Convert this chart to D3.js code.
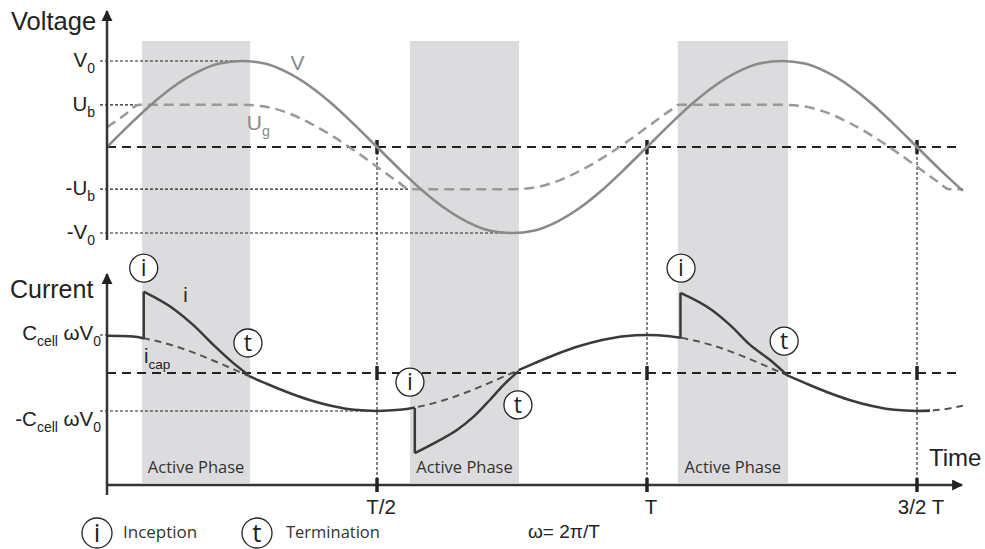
<!DOCTYPE html>
<html>
<head>
<meta charset="utf-8">
<script src="https://cdn.jsdelivr.net/npm/d3@7"></script>
<style>
  body { margin: 0; background: #fff; }
  text { font-family: "Liberation Sans", Arial, sans-serif; fill: #222; }
  .soft { font-family: "Open Sans", sans-serif; }
</style>
</head>
<body>
<svg id="chart"></svg>
<script>
// time is in periods T, voltage in V0, current in Ccell*w*V0

var voltage = [[0,0],[0.042,0.26],[0.083,0.5],[0.125,0.71],[0.167,0.87],[0.208,0.97],[0.25,1],
  [0.292,0.97],[0.333,0.87],[0.375,0.71],[0.417,0.5],[0.458,0.26],[0.5,0],[0.542,-0.26],
  [0.583,-0.5],[0.625,-0.71],[0.667,-0.87],[0.708,-0.97],[0.75,-1],[0.792,-0.97],[0.833,-0.87],
  [0.875,-0.71],[0.917,-0.5],[0.958,-0.26],[1,0],[1.042,0.26],[1.083,0.5],[1.125,0.71],
  [1.167,0.87],[1.208,0.97],[1.25,1],[1.292,0.97],[1.333,0.87],[1.375,0.71],[1.417,0.5],
  [1.458,0.26],[1.5,0],[1.542,-0.26],[1.585,-0.51]];

var gasVoltage = [[0,0.23],[0.03,0.36],[0.06,0.49],[0.25,0.49],[0.292,0.47],[0.333,0.4],
  [0.375,0.28],[0.417,0.13],[0.458,-0.04],[0.5,-0.23],[0.542,-0.42],[0.559,-0.49],[0.75,-0.49],
  [0.792,-0.47],[0.833,-0.4],[0.875,-0.28],[0.917,-0.13],[0.958,0.04],[1,0.23],[1.042,0.42],
  [1.059,0.49],[1.25,0.49],[1.292,0.47],[1.333,0.4],[1.375,0.28],[1.417,0.13],[1.458,-0.04],
  [1.5,-0.23],[1.542,-0.42],[1.559,-0.49],[1.585,-0.49]];

var capCurrent = [[0,0.98],[0.042,0.97],[0.083,0.87],[0.125,0.71],[0.167,0.5],[0.208,0.26],
  [0.25,0],[0.292,-0.26],[0.333,-0.5],[0.375,-0.71],[0.417,-0.87],[0.458,-0.97],[0.5,-1],
  [0.542,-0.97],[0.583,-0.87],[0.625,-0.71],[0.667,-0.5],[0.708,-0.26],[0.75,0],[0.792,0.26],
  [0.833,0.5],[0.875,0.71],[0.917,0.87],[0.958,0.97],[1,1],[1.042,0.97],[1.083,0.87],
  [1.125,0.71],[1.167,0.5],[1.208,0.26],[1.25,0],[1.292,-0.26],[1.333,-0.5],[1.375,-0.71],
  [1.417,-0.87],[1.458,-0.97],[1.5,-1],[1.542,-0.97],[1.585,-0.86]];

// discharge pulses: first point is the inception foot, second the jump
var pulse1 = [[0.068,0.89],[0.068,2.14],[0.126,1.66],[0.16,1.26],[0.197,0.74],[0.234,0.26],[0.262,-0.05]];
var pulse2 = [[0.57,-0.92],[0.57,-2.11],[0.617,-1.76],[0.648,-1.5],[0.679,-1.15],[0.709,-0.71],[0.734,-0.32],[0.762,0.05]];
var pulse3 = [[1.062,0.91],[1.062,2.11],[1.12,1.66],[1.154,1.26],[1.191,0.74],[1.228,0.34],[1.259,-0.05]];
var pulses = [pulse1, pulse2, pulse3];
var currentTailStart = 1.524;

var activePhases = [[0.065, 0.265], [0.561, 0.763], [1.057, 1.261]];

var timeTicks = [0.5, 1, 1.5];
var timeLabels = ["T/2", "T", "3/2 T"];

var voltageTicks = [1, 0.49, -0.49, -1];
var voltageLabels = [["V", "0"], ["U", "b"], ["-U", "b"], ["-V", "0"]];
var voltageGuideEnds = [0.25, 0.06, 0.56, 0.75];

var currentTicks = [1, -1];
var currentLabels = [["C", "cell", " \u03c9V", "0"], ["-C", "cell", " \u03c9V", "0"]];
var currentGuideEnds = [0, 0.5];

var annotations = [["i", 0.068, 2.76], ["t", 0.261, 0.79], ["i", 0.561, -0.24],
  ["t", 0.761, -0.84], ["i", 1.063, 2.76], ["t", 1.254, 0.84]];

var width = 985, height = 549;

var svg = d3.select("#chart")
    .attr("width", width)
    .attr("height", height);

var x = d3.scaleLinear().domain([0, 1.5]).range([107, 917]);
var yV = d3.scaleLinear().domain([-1, 1]).range([233, 61]);
var yI = d3.scaleLinear().domain([-1, 1]).range([411, 335]);
var axisY = 485, tEnd = 1.585;

// text with alternating normal / subscript parts
function richText(g, parts, size) {
  parts.forEach(function(p, k) {
    var sub = k % 2 === 1;
    g.append("tspan")
        .attr("font-size", sub ? size * 0.68 : size)
        .attr("dy", sub ? size * 0.3 : (k > 0 ? -size * 0.3 : 0))
        .text(p);
  });
  return g;
}

var defs = svg.append("defs");
defs.append("marker")
    .attr("id", "arrow")
    .attr("viewBox", "0 0 10 10")
    .attr("refX", 9).attr("refY", 5)
    .attr("markerWidth", 5).attr("markerHeight", 4.4)
    .attr("markerUnits", "strokeWidth")
    .attr("orient", "auto")
  .append("path")
    .attr("d", "M0,0 L10,5 L0,10 z")
    .attr("fill", "#222");

// active phases
svg.selectAll(".phase")
    .data(activePhases)
  .enter().append("rect")
    .attr("x", d => x(d[0]))
    .attr("width", d => x(d[1]) - x(d[0]))
    .attr("y", 41)
    .attr("height", axisY - 2 - 41)
    .attr("fill", "#dcdcdf");

svg.selectAll(".phase-label")
    .data(activePhases)
  .enter().append("text")
    .attr("class", "soft")
    .attr("x", d => x((d[0] + d[1]) / 2))
    .attr("y", 473)
    .attr("text-anchor", "middle")
    .attr("font-size", 16.5)
    .style("fill", "#333")
    .text("Active Phase");

// guide lines
var guide = { stroke: "#222", "stroke-width": 1.1, "stroke-dasharray": "3,2", fill: "none" };
function styled(sel, st) { Object.keys(st).forEach(k => sel.attr(k, st[k])); return sel; }

styled(svg.selectAll(".vguide").data(timeTicks).enter().append("line")
    .attr("x1", d => x(d)).attr("x2", d => x(d))
    .attr("y1", yV(0)).attr("y2", axisY), guide);

styled(svg.selectAll(".vlev").data(voltageTicks).enter().append("line")
    .attr("x1", 100).attr("x2", (d, i) => x(voltageGuideEnds[i]))
    .attr("y1", d => yV(d)).attr("y2", d => yV(d)), guide);

styled(svg.selectAll(".ilev").data(currentTicks).enter().append("line")
    .attr("x1", 100).attr("x2", (d, i) => x(currentGuideEnds[i]))
    .attr("y1", d => yI(d)).attr("y2", d => yI(d)), guide);

// zero lines
[yV(0), yI(0)].forEach(function(y0) {
  svg.append("line")
      .attr("x1", x(0)).attr("x2", 962)
      .attr("y1", y0).attr("y2", y0)
      .attr("stroke", "#222").attr("stroke-width", 2)
      .attr("stroke-dasharray", "9,6");
  svg.selectAll(null).data(timeTicks).enter().append("line")
      .attr("x1", d => x(d)).attr("x2", d => x(d))
      .attr("y1", y0 - 7).attr("y2", y0 + 7)
      .attr("stroke", "#222").attr("stroke-width", 3.5);
});

// voltage curves
var lineV = d3.line().x(d => x(d[0])).y(d => yV(d[1])).curve(d3.curveMonotoneX);
var lineI = d3.line().x(d => x(d[0])).y(d => yI(d[1])).curve(d3.curveMonotoneX);

svg.append("path")
    .datum(gasVoltage)
    .attr("d", lineV)
    .attr("fill", "none")
    .attr("stroke", "#999")
    .attr("stroke-width", 2.5)
    .attr("stroke-dasharray", "10,6");

svg.append("path")
    .datum(voltage)
    .attr("d", lineV)
    .attr("fill", "none")
    .attr("stroke", "#8a8a8a")
    .attr("stroke-width", 2.6);

// current: capacitive part, solid outside the pulses, dashed under them
var windows = pulses.map(p => [p[0][0], p[p.length - 1][0]]);
var solidSpans = [], edge = 0;
windows.forEach(function(w) { solidSpans.push([edge, w[0]]); edge = w[1]; });
solidSpans.push([edge, currentTailStart]);
var dashedSpans = windows.concat([[currentTailStart, tEnd + 0.02]]);

function clipFor(id, spans) {
  defs.append("clipPath").attr("id", id)
    .selectAll("rect").data(spans).enter().append("rect")
      .attr("x", d => x(d[0])).attr("width", d => x(d[1]) - x(d[0]))
      .attr("y", 250).attr("height", 240);
}
clipFor("solidClip", solidSpans);
clipFor("dashClip", dashedSpans);

svg.append("path")
    .datum(capCurrent)
    .attr("d", lineI)
    .attr("clip-path", "url(#dashClip)")
    .attr("fill", "none")
    .attr("stroke", "#555")
    .attr("stroke-width", 2)
    .attr("stroke-dasharray", "7,5");

svg.append("path")
    .datum(capCurrent)
    .attr("d", lineI)
    .attr("clip-path", "url(#solidClip)")
    .attr("fill", "none")
    .attr("stroke", "#3a3a3a")
    .attr("stroke-width", 2.5);

pulses.forEach(function(p) {
  svg.append("path")
      .datum(p.slice(0, 2))
      .attr("d", d3.line().x(d => x(d[0])).y(d => yI(d[1])))
      .attr("stroke", "#3a3a3a").attr("stroke-width", 2.5);
  svg.append("path")
      .datum(p.slice(1))
      .attr("d", lineI)
      .attr("fill", "none")
      .attr("stroke", "#3a3a3a")
      .attr("stroke-width", 2.5)
      .attr("stroke-linejoin", "round");
});

// axes
var axisStyle = { stroke: "#333", "stroke-width": 2.5 };
styled(svg.append("line").attr("x1", x(0)).attr("x2", x(0)).attr("y1", 240).attr("y2", 11)
    .attr("marker-end", "url(#arrow)"), axisStyle);
styled(svg.append("line").attr("x1", x(0)).attr("x2", x(0)).attr("y1", 495).attr("y2", 274)
    .attr("marker-end", "url(#arrow)"), axisStyle);
styled(svg.append("line").attr("x1", x(0)).attr("x2", 962).attr("y1", axisY).attr("y2", axisY)
    .attr("marker-end", "url(#arrow)"), axisStyle);

svg.selectAll(".tick").data(timeTicks).enter().append("line")
    .attr("x1", d => x(d)).attr("x2", d => x(d))
    .attr("y1", axisY - 7).attr("y2", axisY + 7)
    .attr("stroke", "#222").attr("stroke-width", 3.5);

svg.selectAll(".tick-label").data(timeTicks).enter().append("text")
    .attr("x", d => x(d) + 4)
    .attr("y", 514)
    .attr("text-anchor", "middle")
    .attr("font-size", 20.5)
    .text((d, i) => timeLabels[i]);

// axis titles
svg.append("text").attr("x", 11).attr("y", 30).attr("font-size", 25.5).text("Voltage");
svg.append("text").attr("x", 10).attr("y", 298).attr("font-size", 25).text("Current");
svg.append("text").attr("x", 929).attr("y", 466).attr("font-size", 24).text("Time");

// level labels
voltageTicks.forEach(function(v, i) {
  richText(svg.append("text")
      .attr("x", 95).attr("y", yV(v) + 6)
      .attr("text-anchor", "end"), voltageLabels[i], 20.5);
});
currentTicks.forEach(function(v, i) {
  richText(svg.append("text")
      .attr("x", 101).attr("y", yI(v) + (i === 0 ? 5 : 15))
      .attr("text-anchor", "end"), currentLabels[i], 20.5);
});

// curve labels
svg.append("text").attr("x", x(0.34)).attr("y", yV(0.9)).attr("font-size", 21)
    .style("fill", "#888").text("V");
richText(svg.append("text").attr("x", x(0.259)).attr("y", yV(0.2)).style("fill", "#888"),
    ["U", "g"], 21);
svg.append("text").attr("x", x(0.141)).attr("y", yI(1.87)).attr("font-size", 20).text("i");
richText(svg.append("text").attr("x", x(0.0685)).attr("y", yI(0.26)), ["i", "cap"], 20);

// inception / termination markers
function marker(cx, cy, ch, r, size) {
  svg.append("circle").attr("cx", cx).attr("cy", cy).attr("r", r)
      .attr("fill", "#fff").attr("stroke", "#222").attr("stroke-width", 1.3);
  svg.append("text").attr("class", "soft")
      .attr("x", cx).attr("y", cy + size * 0.36)
      .attr("text-anchor", "middle").attr("font-size", size)
      .text(ch);
}
annotations.forEach(a => marker(x(a[1]), yI(a[2]), a[0], 14, 23));

// legend
marker(97, 533, "i", 15, 26);
svg.append("text").attr("class", "soft").attr("x", 123).attr("y", 538)
    .attr("font-size", 17).style("fill", "#333").text("Inception");
marker(257, 533, "t", 15, 26);
svg.append("text").attr("class", "soft").attr("x", 286).attr("y", 538)
    .attr("font-size", 16.5).style("fill", "#333").text("Termination");
svg.append("text").attr("x", 528).attr("y", 538).attr("font-size", 19)
    .text("\u03c9= 2\u03c0/T");
</script>
</body>
</html>
